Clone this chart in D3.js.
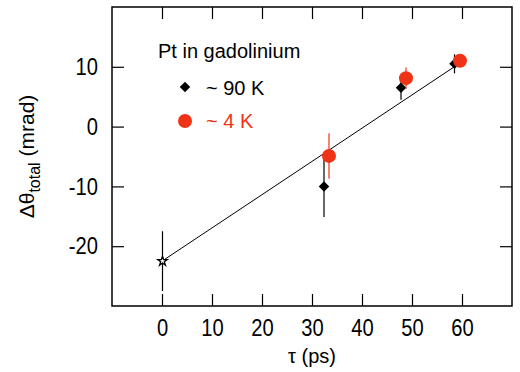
<!DOCTYPE html>
<html>
<head>
<meta charset="utf-8">
<script src="https://cdn.jsdelivr.net/npm/d3@7"></script>
<style>
  body { margin: 0; background: #fff; }
  svg { display: block; font-family: Arial, "Liberation Sans", sans-serif; }
</style>
</head>
<body>
<div id="chart"></div>
<script>
// data
var tau90 = [32.4, 47.8, 58.5];
var theta90 = [-10.0, 6.5, 10.5];
var err90 = [5.1, 2.0, 1.6];

var tau4 = [33.4, 48.8, 59.6];
var theta4 = [-4.9, 8.1, 11.0];
var err4 = [3.8, 1.8, 0.8];

var tauRef = [0.1];
var thetaRef = [-22.5];
var errRef = [5.0];

var fitTau = [0, 59];
var fitTheta = [-22.5, 10.3];

var xTicks = [0, 10, 20, 30, 40, 50, 60];
var yTicks = [-20, -10, 0, 10];

var red = '#ef3317';
var W = 520, H = 372;
// plot frame (note: "top" is taken by window.top)
var pLeft = 112, pRight = 512, pTop = 7, pBottom = 306;

var svg = d3.select('#chart').append('svg').attr('width', W).attr('height', H);

var x = d3.scaleLinear().domain([-10, 70]).range([pLeft, pRight]);
var y = d3.scaleLinear().domain([-30, 20]).range([pBottom, pTop]);

function zip(a, b, e)
{
	return a.map(function(v, i) { return { x: v, y: b[i], e: e[i] }; });
}

// plain hyphen for negatives, like the original
function fmt(v) { return String(v); }

// axes with inward ticks
var gx = svg.append('g').attr('transform', 'translate(0,' + pBottom + ')')
	.call(d3.axisBottom(x).tickValues(xTicks).tickSize(-12).tickPadding(13).tickFormat(fmt));
var gxt = svg.append('g').attr('transform', 'translate(0,' + pTop + ')')
	.call(d3.axisTop(x).tickValues(xTicks).tickSize(-12).tickFormat(''));
var gy = svg.append('g').attr('transform', 'translate(' + pLeft + ',0)')
	.call(d3.axisLeft(y).tickValues(yTicks).tickSize(-12).tickPadding(14).tickFormat(fmt));
var gyr = svg.append('g').attr('transform', 'translate(' + pRight + ',0)')
	.call(d3.axisRight(y).tickValues(yTicks).tickSize(-12).tickFormat(''));

[gx, gxt, gy, gyr].forEach(function(g) {
	g.select('.domain').remove();
	g.selectAll('line').attr('stroke', '#000').attr('stroke-width', 1.2);
	g.selectAll('text').attr('font-size', 24).attr('fill', '#000')
		.attr('font-family', 'Arial, "Liberation Sans", sans-serif');
});

// tick labels in the original are a little condensed
[gx, gy].forEach(function(g) {
	g.selectAll('text').each(function() {
		var len = this.getComputedTextLength();
		d3.select(this).attr('textLength', len * 0.84).attr('lengthAdjust', 'spacingAndGlyphs');
	});
});

svg.append('rect')
	.attr('x', pLeft).attr('y', pTop)
	.attr('width', pRight - pLeft).attr('height', pBottom - pTop)
	.attr('fill', 'none').attr('stroke', '#000').attr('stroke-width', 1.5);

// fit line
var line = d3.line().x(function(d) { return x(d.x); }).y(function(d) { return y(d.y); });
svg.append('path')
	.datum(fitTau.map(function(v, i) { return { x: v, y: fitTheta[i] }; }))
	.attr('d', line).attr('fill', 'none').attr('stroke', '#000').attr('stroke-width', 1);

function errorBars(data, colour)
{
	svg.append('g').selectAll('line').data(data).enter().append('line')
		.attr('x1', function(d) { return x(d.x); })
		.attr('x2', function(d) { return x(d.x); })
		.attr('y1', function(d) { return y(d.y - d.e); })
		.attr('y2', function(d) { return y(d.y + d.e); })
		.attr('stroke', colour).attr('stroke-width', 1.2);
}

var ref = zip(tauRef, thetaRef, errRef);
var d90 = zip(tau90, theta90, err90);
var d4 = zip(tau4, theta4, err4);

errorBars(ref, '#000');
svg.append('g').selectAll('path').data(ref).enter().append('path')
	.attr('d', d3.symbol().type(d3.symbolStar).size(28))
	.attr('transform', function(d) { return 'translate(' + x(d.x) + ',' + y(d.y) + ')'; })
	.attr('fill', '#fff').attr('stroke', '#000').attr('stroke-width', 1.3);

errorBars(d90, '#000');
svg.append('g').selectAll('path').data(d90).enter().append('path')
	.attr('d', d3.symbol().type(d3.symbolDiamond2).size(70))
	.attr('transform', function(d) { return 'translate(' + x(d.x) + ',' + y(d.y) + ')'; })
	.attr('fill', '#000');

errorBars(d4, red);
svg.append('g').selectAll('circle').data(d4).enter().append('circle')
	.attr('cx', function(d) { return x(d.x); })
	.attr('cy', function(d) { return y(d.y); })
	.attr('r', 7).attr('fill', red);

// legend
svg.append('text').attr('x', 158).attr('y', 58).attr('font-size', 20).text('Pt in gadolinium');
svg.append('path').attr('d', d3.symbol().type(d3.symbolDiamond2).size(70))
	.attr('transform', 'translate(185,87)').attr('fill', '#000');
svg.append('text').attr('x', 206).attr('y', 95).attr('font-size', 20).text('~ 90 K');
svg.append('circle').attr('cx', 185).attr('cy', 121).attr('r', 7).attr('fill', red);
svg.append('text').attr('x', 206).attr('y', 128).attr('font-size', 20).attr('fill', red).text('~ 4 K');

// axis titles
svg.append('text').attr('x', (pLeft + pRight) / 2).attr('y', 363)
	.attr('text-anchor', 'middle').attr('font-size', 20).text('τ (ps)');

var yl = svg.append('text').attr('transform', 'translate(34,' + ((pTop + pBottom) / 2) + ') rotate(-90)')
	.attr('text-anchor', 'middle').attr('font-size', 21);
yl.append('tspan').text('Δθ');
yl.append('tspan').attr('font-size', 16).attr('dy', 6).text('total');
yl.append('tspan').attr('dy', -6).text(' (mrad)');
</script>
</body>
</html>
